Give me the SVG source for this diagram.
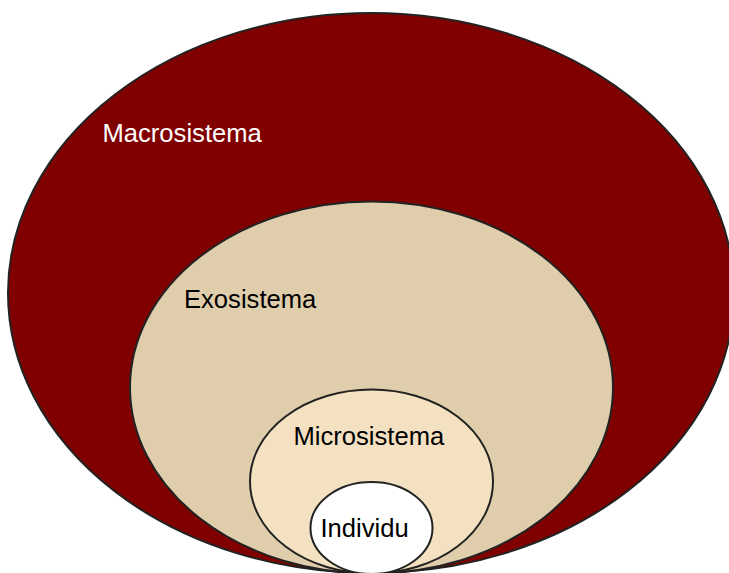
<svg xmlns="http://www.w3.org/2000/svg" width="729" height="573" viewBox="0 0 729 573">
<style>
.ring{stroke:#222;stroke-width:2}
.lbl{font-family:"Liberation Sans",Arial,sans-serif;font-size:25.6px}
</style>
<rect width="729" height="573" fill="#fff"/>
<g id="macrosistema">
<ellipse class="ring" cx="371" cy="293" rx="363" ry="280" fill="#800000"/>
<text class="lbl" x="102.5" y="142" fill="#fff">Macrosistema</text>
</g>
<g id="exosistema">
<ellipse class="ring" cx="371.5" cy="387.5" rx="241.5" ry="186" fill="#DFCDAC"/>
<text class="lbl" x="184" y="308" fill="#000">Exosistema</text>
</g>
<g id="microsistema">
<ellipse class="ring" cx="371.5" cy="481.5" rx="121.5" ry="92" fill="#F4E1C1"/>
<text class="lbl" x="293.5" y="445" fill="#000">Microsistema</text>
</g>
<g id="individu">
<ellipse class="ring" cx="371.5" cy="528" rx="61" ry="46" fill="#fff"/>
<text class="lbl" x="320.5" y="537" fill="#000">Individu</text>
</g>
<g id="connectors"/>
</svg>
